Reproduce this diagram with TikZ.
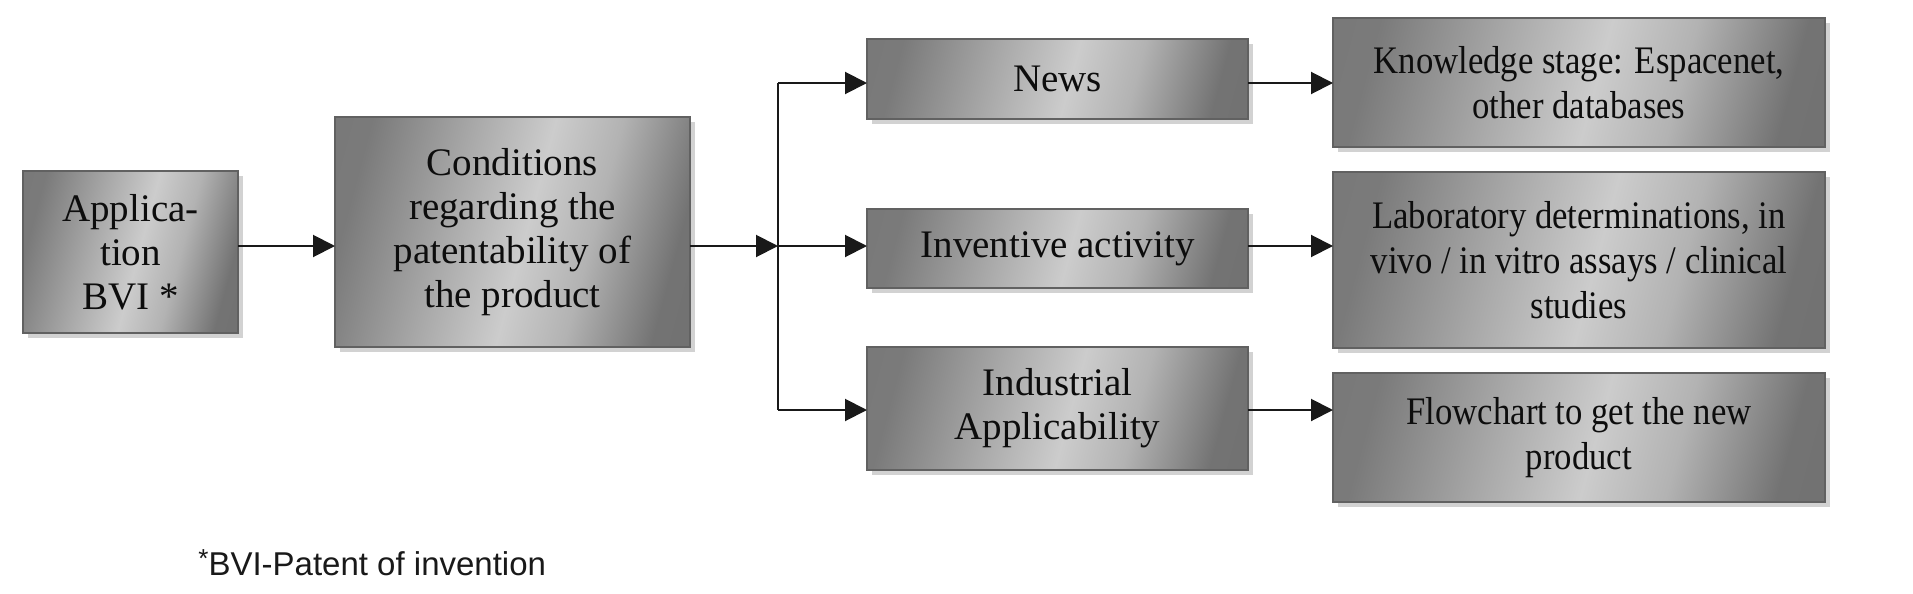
\documentclass[tikz,border=0pt]{standalone}
\usepackage{fontspec}
\setmainfont{Liberation Serif}
\newfontfamily\condfont[FakeStretch=0.89]{Liberation Serif}
\newfontfamily\notefont{Liberation Sans}
\usetikzlibrary{arrows.meta,shadows,calc}
\pgfdeclarehorizontalshading{metal}{100bp}{color(0bp)=(black!55); color(25bp)=(black!52); color(40bp)=(black!34); color(52bp)=(black!20); color(62bp)=(black!30); color(75bp)=(black!55); color(100bp)=(black!56)}
\begin{document}
\begin{tikzpicture}[x=0.5pt,y=-0.5pt,
  box/.style={draw=black!62, line width=1pt, shading=metal, shading angle=-15,
    drop shadow={shadow xshift=2.5pt, shadow yshift=-2.5pt, fill=black!22, opacity=0.8},
    align=center, inner sep=2pt, outer sep=0pt,
    font=\fontsize{19.5}{22}\selectfont, text=black!95},
  widebox/.style={box, font=\condfont\fontsize{19.5}{22.5}\selectfont},
  arr/.style={line width=1pt, draw=black!90, -{Triangle[length=11pt,width=11pt]}},
  conn/.style={line width=1pt, draw=black!90}
]
\useasboundingbox[fill=white] (0,0) rectangle (1913,594);

\node[box, minimum width=107.5pt, minimum height=81pt] (app) at (130.5,252) {Applica-\\tion\\BVI *};
\node[box, minimum width=177.5pt, minimum height=115pt] (cond) at (512.5,232) {Conditions\\regarding the\\patentability of\\the product};
\node[box, minimum width=190.5pt, minimum height=40pt] (news) at (1057.5,79) {News};
\node[box, minimum width=190.5pt, minimum height=39.5pt] (inv) at (1057.5,248.5) {Inventive activity};
\node[box, minimum width=190.5pt, minimum height=61.5pt] (ind) at (1057.5,408.5) {Industrial\\Applicability};
\node[widebox, minimum width=246pt, minimum height=64.5pt] (know) at (1579,82.5) {Knowledge stage: Espacenet,\\other databases};
\node[widebox, minimum width=246pt, minimum height=88pt] (lab) at (1579,260) {Laboratory determinations, in\\vivo / in vitro assays / clinical\\studies};
\node[widebox, minimum width=246pt, minimum height=64.5pt] (flow) at (1579,437.5) {Flowchart to get the new\\product};

\coordinate (split) at (778,246);
\coordinate (t1) at (778,83);
\coordinate (t3) at (778,410);

\draw[arr] (app.east |- split) -- (cond.west |- split);
\draw[arr] (cond.east |- split) -- (split);
\draw[conn] (t1) -- (t3);
\draw[arr] (t1) -- (t1 -| news.west);
\draw[arr] (split) -- (split -| inv.west);
\draw[arr] (t3) -- (t3 -| ind.west);
\draw[arr] (news.east |- t1) -- (know.west |- t1);
\draw[arr] (inv.east |- split) -- (lab.west |- split);
\draw[arr] (ind.east |- t3) -- (flow.west |- t3);

\node[anchor=base west, inner sep=0pt, font=\notefont\fontsize{16.5}{19}\selectfont, text=black!90] (note) at (198,575) {\raisebox{4pt}{\fontsize{13}{13}\selectfont*}BVI-Patent of invention};
\end{tikzpicture}
\end{document}
